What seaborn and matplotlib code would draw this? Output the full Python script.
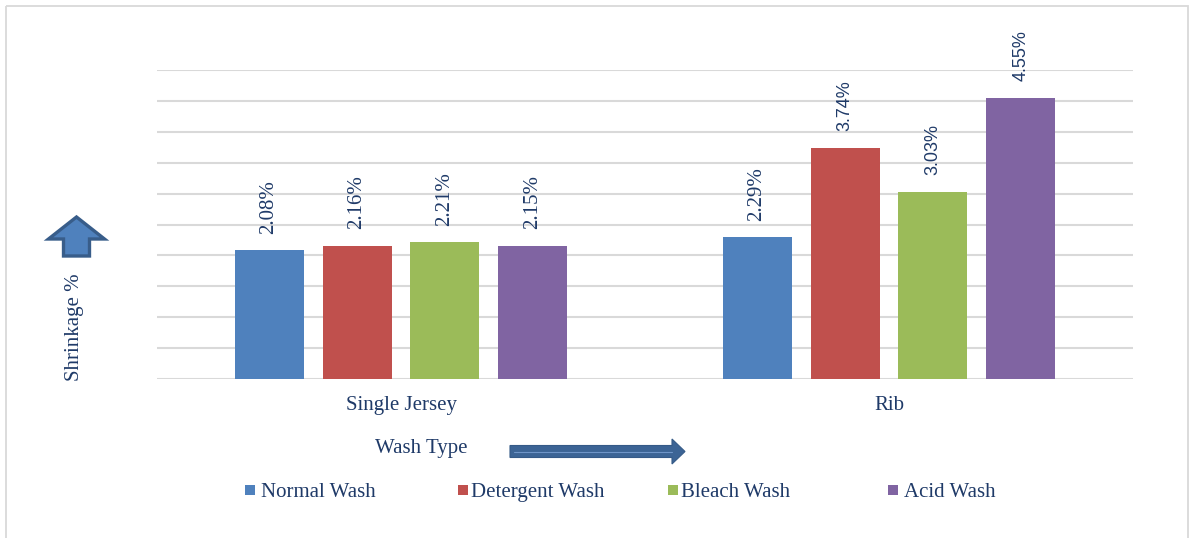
import numpy as np
import pandas as pd
import matplotlib
matplotlib.use("Agg")
import matplotlib.pyplot as plt
from matplotlib.patches import FancyArrow, Rectangle
import seaborn as sns

# Shrinkage (%) by fabric and wash treatment
fabrics = ["Single Jersey", "Rib"]
washes = ["Normal Wash", "Detergent Wash", "Bleach Wash", "Acid Wash"]
single_jersey = [2.08, 2.16, 2.21, 2.15]
rib = [2.29, 3.74, 3.03, 4.55]
colors = ["#4F81BD", "#C0504D", "#9BBB59", "#8064A2"]

text_color = "#1F3A68"
serif = "Liberation Serif"
sans = "Liberation Sans"

sns.set_theme(style="white")
plt.rcParams["font.family"] = [serif, "DejaVu Serif"]

df = pd.DataFrame({
    "fabric": np.repeat(fabrics, len(washes)),
    "wash": washes * len(fabrics),
    "shrinkage": single_jersey + rib,
})

W, H = 1190, 538
fig = plt.figure(figsize=(W / 100, H / 100), dpi=100)
fig.patch.set_facecolor("white")

# Full-figure overlay in pixel units for the frame, arrows and legend
over = fig.add_axes([0, 0, 1, 1], zorder=0)
over.set_xlim(0, W)
over.set_ylim(H, 0)
over.axis("off")
over.add_patch(Rectangle((6, 6), 1182, 560, fill=False, edgecolor="#D9D9D9", lw=1.3))
over.add_patch(FancyArrow(76.5, 256, 0, -39, width=26, head_width=56, head_length=22,
                          length_includes_head=True, facecolor="#4F81BD",
                          edgecolor="#385D8A", lw=2.4))
over.add_patch(FancyArrow(510, 451.5, 175, 0, width=12, head_width=25, head_length=13,
                          length_includes_head=True, facecolor="#3C6495",
                          edgecolor="#355A87", lw=0.8))
over.plot([514, 672], [451.5, 451.5], color="#6F95C8", lw=0.8)

ax = fig.add_axes([157 / W, 1 - 379 / H, (1133 - 157) / W, (379 - 70) / H], zorder=1)
ax.patch.set_alpha(0)

sns.barplot(data=df, x="fabric", y="shrinkage", hue="wash", hue_order=washes,
            palette=colors, saturation=1, width=0.721, gap=0.216,
            linewidth=0, legend=False, ax=ax)

ax.set_xlim(-0.5, 1.5)
ax.set_ylim(0, 5)
ax.set_yticks(np.arange(0, 5.01, 0.5))
ax.set_yticklabels([])
ax.yaxis.grid(True, color="#D9D9D9", lw=1.5)
ax.set_axisbelow(True)
for s in ax.spines.values():
    s.set_visible(False)
ax.tick_params(axis="both", length=0)
ax.tick_params(axis="x", pad=12, labelsize=15, labelcolor=text_color)
for lab in ax.get_xticklabels():
    lab.set_fontfamily(serif)
ax.set_xlabel("")
ax.set_ylabel("")

# Value labels above each bar
values = [single_jersey, rib]
for h_idx, container in enumerate(ax.containers):
    for f_idx, bar in enumerate(container):
        v = values[f_idx][h_idx]
        x = bar.get_x() + bar.get_width() / 2
        use_sans = f_idx == 1 and h_idx > 0
        ax.annotate(f"{v:.2f}%", xy=(x, v), xytext=(0, 12), textcoords="offset points",
                    rotation=90, ha="center", va="bottom", color=text_color,
                    fontsize=13 if use_sans else 15,
                    family=sans if use_sans else serif)

fig.text(421 / W, 1 - 449 / H, "Wash Type", ha="center", va="center",
         fontsize=15, color=text_color, family=serif)
fig.text(74 / W, 1 - 327 / H, "Shrinkage %", ha="center", va="center", rotation=90,
         fontsize=15, color=text_color, family=serif)

# Legend along the bottom: colour key square followed by series name
legend_sq = [245, 458, 668, 888]
legend_tx = [261, 471, 681, 904]
baseline = 497
for name, c, sx, tx in zip(washes, colors, legend_sq, legend_tx):
    over.add_patch(Rectangle((sx, baseline - 12), 10, 10, facecolor=c, edgecolor="none"))
    over.text(tx, baseline, name, ha="left", va="baseline", fontsize=15,
              color=text_color, family=serif)

fig.savefig("out.png", dpi=100, facecolor="white")
